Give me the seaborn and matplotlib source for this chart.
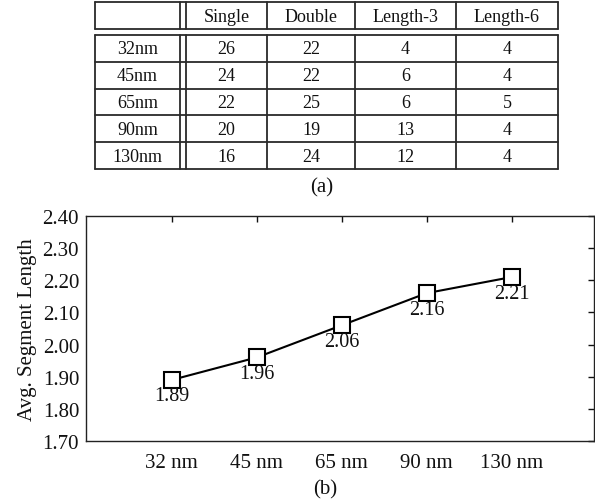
import matplotlib
matplotlib.use("Agg")
import matplotlib.pyplot as plt
import seaborn as sns
import pandas as pd

# ---- data ----
tech_nodes = ["32nm", "45nm", "65nm", "90nm", "130nm"]
table_cols = ["Single", "Double", "Length-3", "Length-6"]
single = [26, 24, 22, 20, 16]
double = [22, 22, 25, 19, 24]
length3 = [4, 6, 6, 13, 12]
length6 = [4, 4, 5, 4, 4]

x_labels = ["32 nm", "45 nm", "65 nm", "90 nm", "130 nm"]
avg_seg_len = [1.89, 1.96, 2.06, 2.16, 2.21]
y_ticks = [1.70, 1.80, 1.90, 2.00, 2.10, 2.20, 2.30, 2.40]

sns.set_theme(style="white")
plt.rcParams["font.family"] = ["Liberation Serif", "DejaVu Serif"]

W, H = 595, 502
fig = plt.figure(figsize=(W / 100, H / 100), dpi=100)
fig.patch.set_facecolor("white")

# ---- table (a) drawn in pixel space ----
tax = fig.add_axes([0, 0, 1, 1])
tax.set_xlim(0, W)
tax.set_ylim(H, 0)
tax.axis("off")

col_edges = [95, 180, 186, 267, 355, 456, 558]
hdr_top, hdr_bot = 3, 30
data_top, row_h = 36, 26.8
n_rows = len(tech_nodes)
data_bot = data_top + row_h * n_rows
lc = "#2a2a2a"
lw = 1.3
tc = "#111111"

def box(y0, y1):
    tax.plot([col_edges[0], col_edges[-1]], [y0, y0], color=lc, lw=lw)
    tax.plot([col_edges[0], col_edges[-1]], [y1, y1], color=lc, lw=lw)
    for xe in col_edges:
        tax.plot([xe, xe], [y0, y1], color=lc, lw=lw)

box(hdr_top, hdr_bot)
box(data_top, data_bot)
for i in range(1, n_rows):
    y = data_top + row_h * i
    tax.plot([col_edges[0], col_edges[-1]], [y, y], color=lc, lw=lw)

centers = [(col_edges[0] + col_edges[1]) / 2] + [
    (col_edges[j] + col_edges[j + 1]) / 2 for j in range(2, 6)
]
tfs = 13
for j, name in enumerate(table_cols):
    tax.text(centers[j + 1], (hdr_top + hdr_bot) / 2 + 0.5, name, ha="center",
             va="center", fontsize=tfs, color=tc)
cols = [single, double, length3, length6]
for i, node in enumerate(tech_nodes):
    yc = data_top + row_h * (i + 0.5) + 0.5
    tax.text(centers[0], yc, node, ha="center", va="center", fontsize=tfs,
             color=tc)
    for j, c in enumerate(cols):
        tax.text(centers[j + 1], yc, str(c[i]), ha="center", va="center",
                 fontsize=tfs, color=tc)

tax.text(322, 188, "(a)", ha="center", va="center", fontsize=15, color=tc)
tax.text(325, 490, "(b)", ha="center", va="center", fontsize=15, color=tc)

# ---- line chart (b) ----
left, right, top, bottom = 86, 594, 217, 442
ax = fig.add_axes([left / W, (H - bottom) / H, (right - left) / W, (bottom - top) / H])
df = pd.DataFrame({"node": x_labels, "val": avg_seg_len})
sns.lineplot(data=df, x="node", y="val", ax=ax, color="black", lw=1.5,
             marker="s", markersize=11, markerfacecolor="white",
             markeredgecolor="black", markeredgewidth=1.5, sort=False)
for xl, v in zip(x_labels, avg_seg_len):
    ax.annotate(f"{v:.2f}", (xl, v), xytext=(0, -11.5), textcoords="offset points",
                ha="center", va="center", fontsize=14.5, color=tc)

ax.set_xlim(-1.01, 4.97)
ax.set_ylim(1.70, 2.40)
ax.set_yticks(y_ticks)
ax.set_yticklabels([f"{t:.2f}" for t in y_ticks])
ax.set_xlabel("")
ax.set_ylabel("Avg. Segment Length", fontsize=15, color=tc, labelpad=4)
ax.tick_params(axis="both", direction="in", length=4, width=1, colors=tc,
               labelsize=15, top=True, right=True, pad=5)
ax.tick_params(axis="x", pad=9)
for s in ax.spines.values():
    s.set_color("#222222")
    s.set_linewidth(1.0)
ax.set_facecolor("white")
ax.grid(False)

fig.savefig("out.png", dpi=100, facecolor="white")
